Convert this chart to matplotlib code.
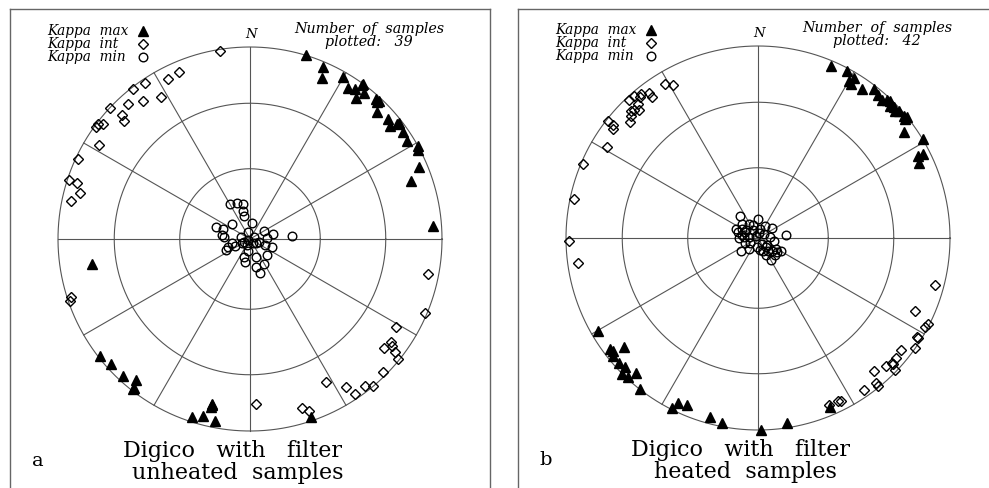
import numpy as np
import matplotlib.pyplot as plt

plt.rcParams['font.family'] = ['DejaVu Serif']

# Panel a: unheated samples (declination, inclination in degrees)
a_max_dec = [17, 23, 24, 30, 33, 35, 36, 38, 37, 42, 43, 45, 49, 51, 52, 55, 58, 61, 62, 67,
             70, 86, 261, 232, 228, 223, 219, 218, 193, 193, 198, 195, 191, 161, 36, 43, 52, 218, 193]
a_max_inc = [0, 3, 9, 3, 7, 5, 0, 4, 9, 2, 3, 7, 5, 7, 2, 3, 4, 0, 1, 5,
             12, 5, 18, 1, 3, 3, 6, 1, 13, 11, 3, 5, 4, 2, 1, 2, 3, 2, 12]
a_int_dec = [351, 337, 333, 326, 322, 328, 322, 318, 313, 314, 313, 306, 307, 308, 302, 295, 288, 288, 285, 282,
             251, 252, 101, 113, 121, 126, 129, 127, 128, 129, 135, 140, 142, 146, 147, 152, 163, 161, 178]
a_int_inc = [1, 6, 7, 2, 1, 14, 10, 6, 0, 8, 11, 1, 1, 3, 8, 1, 1, 6, 9, 5,
             1, 2, 6, 1, 12, 10, 11, 8, 5, 1, 2, 0, 3, 3, 9, 17, 9, 6, 15]
a_min_dec = [330, 340, 349, 346, 345, 8, 289, 290, 309, 278, 275, 60, 77, 85, 86, 280, 344, 240, 242, 148,
             243, 209, 127, 108, 257, 244, 246, 250, 111, 111, 189, 160, 133, 197, 193, 151, 168, 164, 60]
a_min_inc = [73, 74, 75, 78, 80, 83, 75, 78, 80, 78, 79, 83, 80, 83, 72, 86, 87, 89, 87, 88,
             86, 87, 87, 86, 82, 83, 79, 80, 83, 80, 85, 82, 80, 82, 80, 78, 78, 75, 88]

# Panel b: heated samples
b_max_dec = [23, 28, 31, 31, 30, 35, 38, 42, 43, 44, 45, 47, 48, 50, 51, 51, 54, 59, 63, 63,
             65, 40, 46, 240, 231, 233, 231, 228, 226, 225, 223, 222, 218, 206, 207, 203, 195, 191, 232, 179,
             171, 157]
b_max_inc = [3, 2, 3, 7, 6, 6, 2, 4, 2, 1, 3, 3, 1, 1, 0, 2, 7, 0, 7, 4,
             8, 3, 2, 4, 11, 4, 3, 3, 4, 0, 1, 6, 0, 5, 1, 6, 4, 2, 5, 0,
             3, 5]
b_int_dec = [329, 331, 323, 323, 320, 319, 317, 318, 317, 315, 314, 312, 308, 308, 307, 301, 293, 282, 269, 262,
             321, 316, 105, 115, 117, 118, 122, 122, 125, 128, 131, 133, 133, 135, 134, 139, 141, 141, 145, 154,
             153, 157]
b_int_inc = [7, 10, 6, 9, 5, 2, 2, 7, 10, 7, 9, 11, 1, 5, 6, 9, 1, 2, 2, 6,
             4, 8, 5, 11, 1, 2, 2, 3, 0, 6, 5, 5, 4, 6, 1, 9, 3, 1, 4, 6,
             5, 6]
b_min_dec = [320, 359, 29, 55, 83, 84, 328, 312, 287, 269, 296, 278, 330, 13, 60, 315, 234, 221, 187, 159,
             143, 122, 119, 156, 149, 135, 275, 282, 292, 300, 305, 236, 145, 129, 132, 126, 340, 10, 250, 170,
             100, 140]
b_min_inc = [78, 82, 84, 83, 78, 85, 83, 81, 81, 82, 84, 86, 86, 86, 87, 89, 81, 84, 86, 84,
             83, 81, 79, 82, 79, 80, 84, 83, 80, 82, 84, 86, 87, 85, 82, 80, 84, 88, 84, 85,
             83, 85]

labels = ['a', 'b']
n_samples = [39, 42]
subtitles = ['unheated  samples', 'heated  samples']
series = [
    [(a_max_dec, a_max_inc), (a_int_dec, a_int_inc), (a_min_dec, a_min_inc)],
    [(b_max_dec, b_max_inc), (b_int_dec, b_int_inc), (b_min_dec, b_min_inc)],
]
legend_names = ['Kappa  max', 'Kappa  int', 'Kappa  min']


def project(dec, inc):
    # lower hemisphere equal-area (Schmidt) projection
    dec = np.radians(np.asarray(dec, float))
    rho = np.sqrt(2) * np.sin(np.radians(90 - np.asarray(inc, float)) / 2)
    return rho * np.sin(dec), rho * np.cos(dec)


W, H = 989, 488
R = 192.
styles = [dict(marker='^', color='k', ms=7, ls='none'),
          dict(marker='D', mfc='none', mec='k', mew=1.0, ms=5.4, ls='none'),
          dict(marker='o', mfc='none', mec='k', mew=1.0, ms=6.2, ls='none')]
grid_col = '#555555'

fig = plt.figure(figsize=(W / 100, H / 100), dpi=100)
# box left / right / top in pixels, circle centre in pixels
boxes = [(10, 490, 9, 250, 239), (518, 1000, 9, 758, 238)]

for num, (left, right, top, cx, cy) in enumerate(boxes):
    ax = fig.add_axes([left / W, 0, (right - left) / W, (H - top) / H])
    ax.set_xlim((left - cx) / R, (right - cx) / R)
    ax.set_ylim((cy - H) / R, (cy - top) / R)
    ax.set_xticks([])
    ax.set_yticks([])
    ax.spines['bottom'].set_visible(False)
    for s in ax.spines.values():
        s.set_color('#666666')
        s.set_linewidth(1.0)

    # net: small circles at 30 and 60 deg, primitive, radial lines every 30 deg
    t = np.linspace(0, 2 * np.pi, 400)
    for inc in [60, 30, 0]:
        rr = np.sqrt(2) * np.sin(np.radians(90 - inc) / 2)
        ax.plot(rr * np.cos(t), rr * np.sin(t), color=grid_col, lw=0.8)
    for az in range(0, 360, 30):
        ax.plot([0, np.sin(np.radians(az))], [0, np.cos(np.radians(az))], color=grid_col, lw=0.8)

    for (dec, inc), st in zip(series[num], styles):
        x, y = project(dec, inc)
        ax.plot(x, y, **st)

    ax.text(0.005, 1.065, 'N', style='italic', fontsize=9.5, ha='center', va='center')

    # legend
    for k, (name, st) in enumerate(zip(legend_names, styles)):
        yy = 1.083 - k * 0.068
        ax.text(-1.055, yy, name, style='italic', fontsize=9.8, ha='left', va='center')
        ax.plot([-0.557], [yy], **st)

    ax.text(0.62, 1.094, 'Number  of  samples', style='italic', fontsize=10.3, ha='center', va='center')
    ax.text(0.62, 1.026, 'plotted:   %d' % n_samples[num], style='italic', fontsize=10.3,
            ha='center', va='center')

    ax.text(-0.09, -1.104, 'Digico   with   filter', fontsize=16, ha='center', va='center')
    ax.text(-0.065, -1.219, subtitles[num], fontsize=16, ha='center', va='center')
    ax.text(-1.105, -1.158, labels[num], fontsize=14, ha='center', va='center')

plt.savefig('out.png', dpi=100)
